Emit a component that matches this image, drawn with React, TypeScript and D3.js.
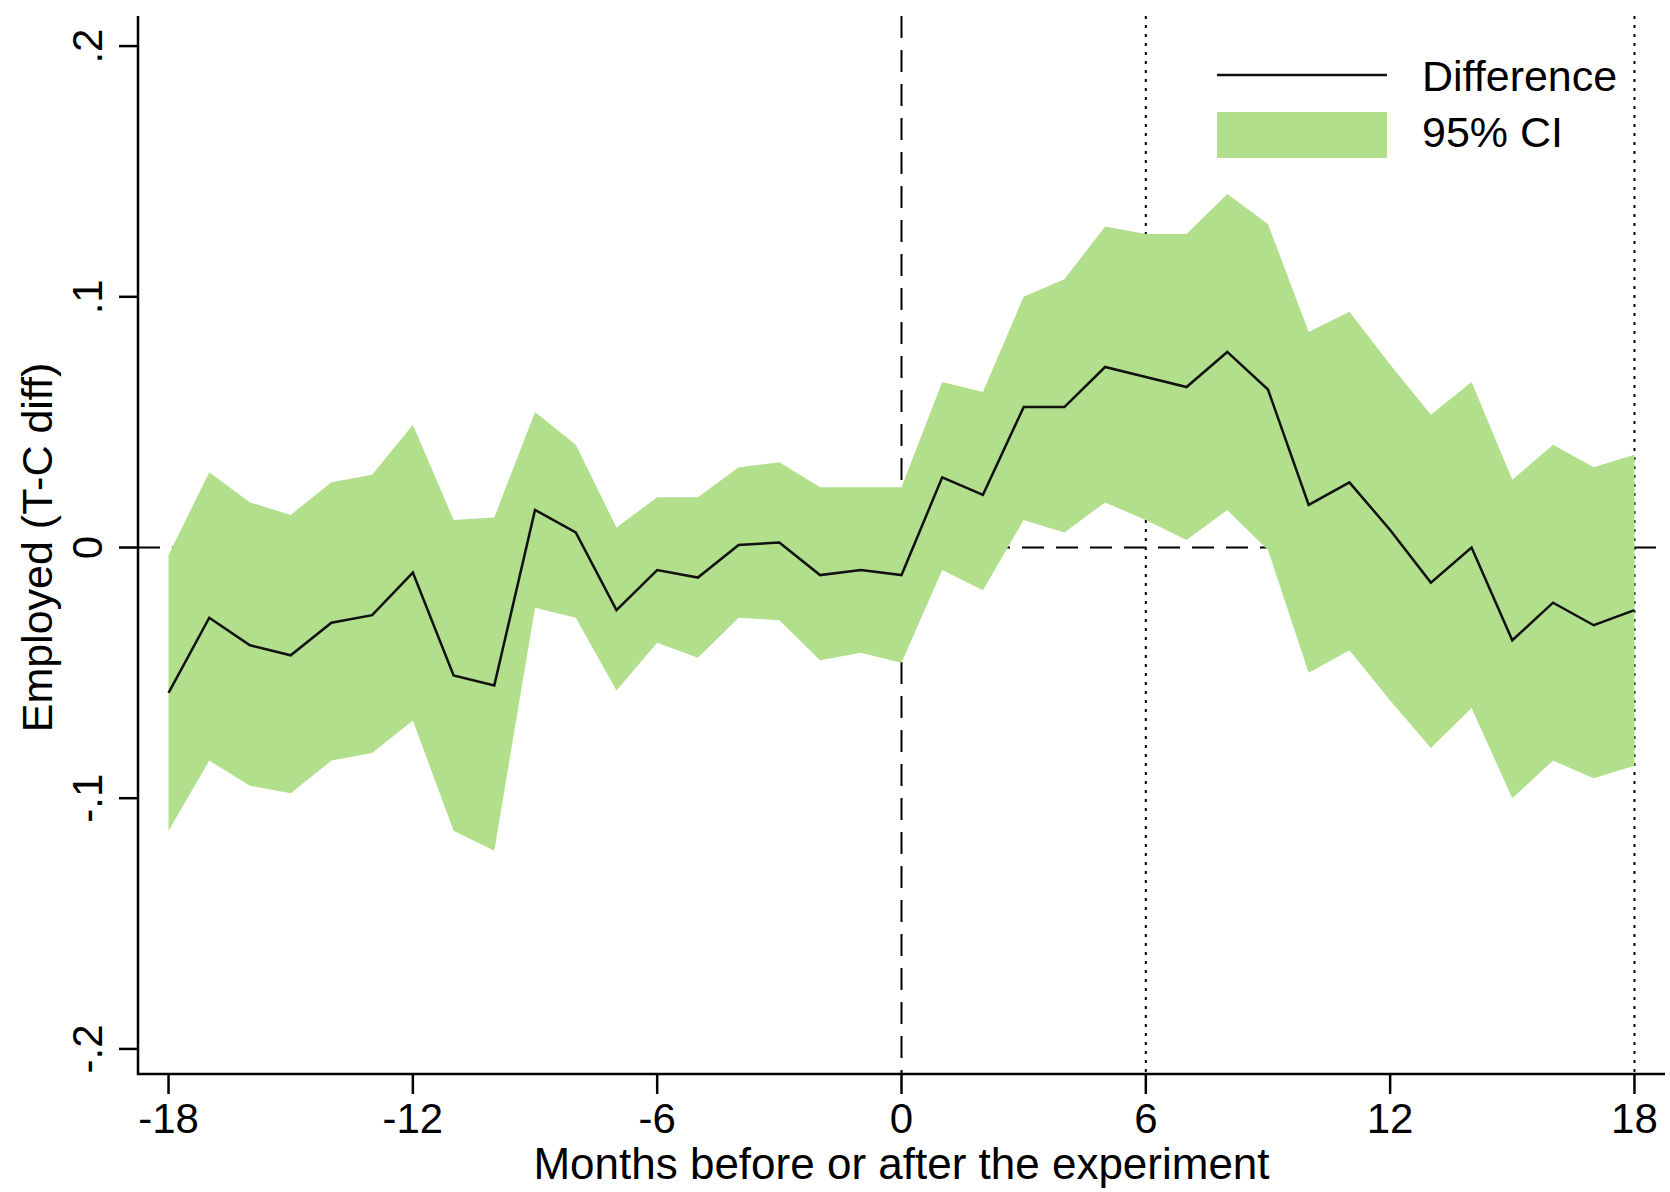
import React, { useEffect, useRef } from 'react';
import * as d3 from 'd3';

// Months relative to the experiment
const months = [
  -18, -17, -16, -15, -14, -13, -12, -11, -10, -9, -8, -7, -6, -5, -4, -3, -2, -1,
  0, 1, 2, 3, 4, 5, 6, 7, 8, 9, 10, 11, 12, 13, 14, 15, 16, 17, 18,
];

// Treatment - control difference in employment
const difference = [
  -0.058, -0.028, -0.039, -0.043, -0.030, -0.027, -0.010, -0.051, -0.055, 0.015,
  0.006, -0.025, -0.009, -0.012, 0.001, 0.002, -0.011, -0.009, -0.011, 0.028,
  0.021, 0.056, 0.056, 0.072, 0.068, 0.064, 0.078, 0.063, 0.017, 0.026,
  0.007, -0.014, 0.000, -0.037, -0.022, -0.031, -0.025,
];

const ciUpper = [
  -0.003, 0.030, 0.018, 0.013, 0.026, 0.029, 0.049, 0.011, 0.012, 0.054,
  0.041, 0.008, 0.020, 0.020, 0.032, 0.034, 0.024, 0.024, 0.024, 0.066,
  0.062, 0.100, 0.107, 0.128, 0.125, 0.125, 0.141, 0.129, 0.086, 0.094,
  0.073, 0.053, 0.066, 0.027, 0.041, 0.032, 0.037,
];

const ciLower = [
  -0.113, -0.085, -0.095, -0.098, -0.085, -0.082, -0.069, -0.113, -0.121, -0.024,
  -0.028, -0.057, -0.038, -0.044, -0.028, -0.029, -0.045, -0.042, -0.046, -0.009,
  -0.017, 0.011, 0.006, 0.018, 0.011, 0.003, 0.015, -0.001, -0.050, -0.041,
  -0.061, -0.080, -0.064, -0.100, -0.085, -0.092, -0.087,
];

const xTicks = [-18, -12, -6, 0, 6, 12, 18];
const yTicks = [-0.2, -0.1, 0, 0.1, 0.2];
const yTickLabels = ['-.2', '-.1', '0', '.1', '.2'];
const dottedLines = [6, 18];

const WIDTH = 1670;
const HEIGHT = 1192;
const FONT = '"Liberation Sans", Arial, sans-serif';
const GREEN = '#b1df8b';

const App: React.FC = () => {
  const ref = useRef<SVGSVGElement>(null);

  useEffect(() => {
    if (!ref.current) return;
    const svg = d3.select(ref.current);
    svg.selectAll('*').remove();

    const left = 138;
    const right = 1665;
    const top = 16;
    const bottom = 1074;

    const x = d3.scaleLinear().domain([-18.75, 18.75]).range([left, right]);
    const y = d3.scaleLinear().domain([-0.21, 0.212]).range([bottom, top]);

    const rows = months.map((m, i) => ({
      m,
      d: difference[i],
      lo: ciLower[i],
      hi: ciUpper[i],
    }));

    // reference lines (under the band)
    svg
      .append('line')
      .attr('x1', left)
      .attr('x2', right)
      .attr('y1', y(0))
      .attr('y2', y(0))
      .attr('stroke', '#000')
      .attr('stroke-width', 2)
      .attr('stroke-dasharray', '22 12');

    svg
      .append('line')
      .attr('x1', x(0))
      .attr('x2', x(0))
      .attr('y1', top)
      .attr('y2', bottom)
      .attr('stroke', '#000')
      .attr('stroke-width', 2)
      .attr('stroke-dasharray', '22 12');

    svg
      .selectAll('line.dotted')
      .data(dottedLines)
      .enter()
      .append('line')
      .attr('class', 'dotted')
      .attr('x1', d => x(d))
      .attr('x2', d => x(d))
      .attr('y1', top)
      .attr('y2', bottom)
      .attr('stroke', '#000')
      .attr('stroke-width', 2)
      .attr('stroke-dasharray', '3 6');

    // confidence band
    const area = d3
      .area<any>()
      .x(d => x(d.m))
      .y0(d => y(d.lo))
      .y1(d => y(d.hi));

    svg.append('path').datum(rows).attr('d', area).attr('fill', GREEN);

    // difference line
    const line = d3
      .line<any>()
      .x(d => x(d.m))
      .y(d => y(d.d));

    svg
      .append('path')
      .datum(rows)
      .attr('d', line)
      .attr('fill', 'none')
      .attr('stroke', '#111')
      .attr('stroke-width', 2.5)
      .attr('stroke-linejoin', 'miter');

    // axes
    svg
      .append('path')
      .attr('d', `M${left},${top}V${bottom}H${right}`)
      .attr('fill', 'none')
      .attr('stroke', '#000')
      .attr('stroke-width', 2.5);

    const yt = svg.append('g');
    yt.selectAll('line')
      .data(yTicks)
      .enter()
      .append('line')
      .attr('x1', left - 19)
      .attr('x2', left)
      .attr('y1', d => y(d))
      .attr('y2', d => y(d))
      .attr('stroke', '#000')
      .attr('stroke-width', 2.5);
    yt.selectAll('text')
      .data(yTicks)
      .enter()
      .append('text')
      .attr('transform', d => `translate(102,${y(d)}) rotate(-90)`)
      .attr('text-anchor', 'middle')
      .style('font-family', FONT)
      .style('font-size', '42px')
      .text((d, i) => yTickLabels[i]);

    const xt = svg.append('g');
    xt.selectAll('line')
      .data(xTicks)
      .enter()
      .append('line')
      .attr('x1', d => x(d))
      .attr('x2', d => x(d))
      .attr('y1', bottom)
      .attr('y2', bottom + 20)
      .attr('stroke', '#000')
      .attr('stroke-width', 2.5);
    xt.selectAll('text')
      .data(xTicks)
      .enter()
      .append('text')
      .attr('x', d => x(d))
      .attr('y', 1133)
      .attr('text-anchor', 'middle')
      .style('font-family', FONT)
      .style('font-size', '42px')
      .text(d => String(d));

    // axis titles
    svg
      .append('text')
      .attr('x', x(0))
      .attr('y', 1179)
      .attr('text-anchor', 'middle')
      .style('font-family', FONT)
      .style('font-size', '44px')
      .text('Months before or after the experiment');

    svg
      .append('text')
      .attr('transform', `translate(52,${y(0)}) rotate(-90)`)
      .attr('text-anchor', 'middle')
      .style('font-family', FONT)
      .style('font-size', '43px')
      .text('Employed (T-C diff)');

    // legend
    const lg = svg.append('g');
    lg.append('line')
      .attr('x1', 1217)
      .attr('x2', 1387)
      .attr('y1', 75)
      .attr('y2', 75)
      .attr('stroke', '#111')
      .attr('stroke-width', 2.5);
    lg.append('rect')
      .attr('x', 1217)
      .attr('y', 112)
      .attr('width', 170)
      .attr('height', 46)
      .attr('fill', GREEN);
    lg.append('text')
      .attr('x', 1422)
      .attr('y', 91)
      .style('font-family', FONT)
      .style('font-size', '43px')
      .text('Difference');
    lg.append('text')
      .attr('x', 1422)
      .attr('y', 147)
      .style('font-family', FONT)
      .style('font-size', '43px')
      .text('95% CI');
  }, []);

  return (
    <svg
      ref={ref}
      width={WIDTH}
      height={HEIGHT}
      style={{ position: 'absolute', left: 0, top: 0, background: '#fff' }}
    />
  );
};

export default App;
